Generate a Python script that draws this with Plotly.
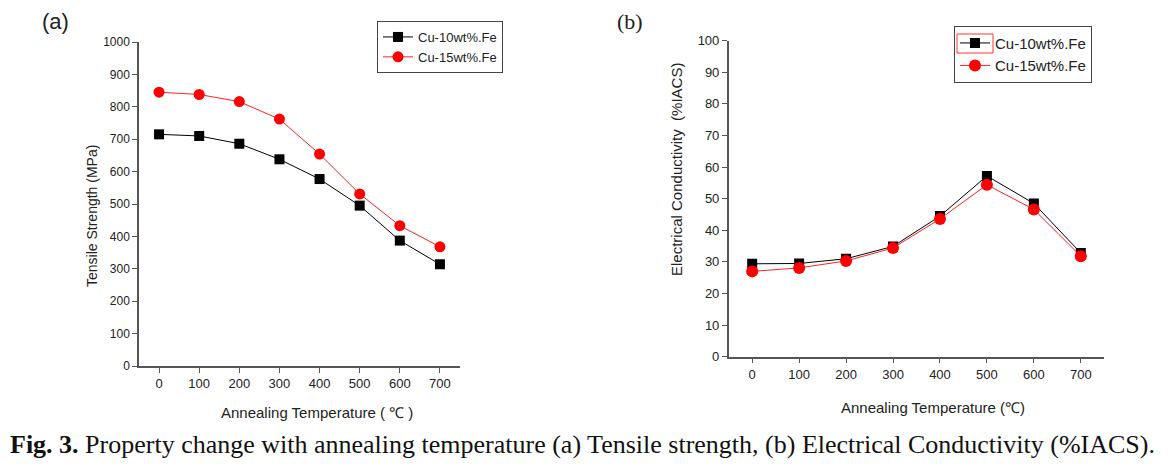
import plotly.graph_objects as go

temps = [0, 100, 200, 300, 400, 500, 600, 700]
series_names = ["Cu-10wt%.Fe", "Cu-15wt%.Fe"]
tensile_10 = [715, 710, 686, 638, 577, 495, 387, 314]
tensile_15 = [845, 838, 816, 762, 654, 531, 433, 368]
cond_10 = [29.4, 29.5, 31.0, 34.9, 44.5, 57.2, 48.5, 32.8]
cond_15 = [27.0, 28.1, 30.3, 34.4, 43.6, 54.4, 46.6, 31.8]
tensile_ticks = list(range(0, 1001, 100))
cond_ticks = list(range(0, 101, 10))

W, H = 1168, 469
def px(x): return x / W
def py(y): return (H - y) / H

SANS = "Liberation Sans, Arial"
SERIF = "Liberation Serif, Times New Roman"

fig = go.Figure()
fig.add_trace(go.Scatter(x=temps, y=tensile_10, name=series_names[0], mode="lines+markers",
                         line=dict(color="black", width=1), marker=dict(symbol="square", size=10, color="black"),
                         xaxis="x", yaxis="y", legend="legend"))
fig.add_trace(go.Scatter(x=temps, y=tensile_15, name=series_names[1], mode="lines+markers",
                         line=dict(color="#ff2020", width=1), marker=dict(symbol="circle", size=11, color="#ff0000"),
                         xaxis="x", yaxis="y", legend="legend"))
fig.add_trace(go.Scatter(x=temps, y=cond_10, name=series_names[0], mode="lines+markers",
                         line=dict(color="black", width=1), marker=dict(symbol="square", size=10, color="black"),
                         xaxis="x2", yaxis="y2", legend="legend2"))
fig.add_trace(go.Scatter(x=temps, y=cond_15, name=series_names[1], mode="lines+markers",
                         line=dict(color="#ff2020", width=1), marker=dict(symbol="circle", size=12, color="#ff0000"),
                         xaxis="x2", yaxis="y2", legend="legend2"))

axis_common = dict(showgrid=False, zeroline=False, showline=True, linecolor="#555555", linewidth=1.5,
                   ticks="outside", ticklen=5, tickcolor="#555555", tickwidth=1.2, automargin=False)

fig.update_layout(
    width=W, height=H, margin=dict(l=0, r=0, t=0, b=0, pad=0, autoexpand=False),
    paper_bgcolor="white", plot_bgcolor="white",
    xaxis=dict(domain=[px(139), px(460)], range=[-50, 750], tickvals=temps, anchor="y",
               tickfont=dict(family=SANS, size=13, color="#222"), **axis_common),
    yaxis=dict(domain=[py(366), py(42)], range=[0, 1000], tickvals=tensile_ticks, anchor="x",
               tickfont=dict(family=SANS, size=12, color="#222"), **axis_common),
    xaxis2=dict(domain=[px(728.7), px(1104.3)], range=[-50, 750], tickvals=temps, anchor="y2",
                tickfont=dict(family=SANS, size=13, color="#222"), **axis_common),
    yaxis2=dict(domain=[py(356.7), py(40.7)], range=[0, 100], tickvals=cond_ticks, anchor="x2",
                tickfont=dict(family=SANS, size=13, color="#222"), **axis_common),
    legend=dict(x=px(377), y=py(21), xanchor="left", yanchor="top", bgcolor="white",
                bordercolor="#444", borderwidth=1, font=dict(family=SANS, size=13, color="#222"),
                tracegroupgap=0, itemwidth=30),
    legend2=dict(x=px(954), y=py(25.7), xanchor="left", yanchor="top", bgcolor="rgba(0,0,0,0)",
                 bordercolor="#444", borderwidth=1, font=dict(family=SANS, size=15, color="#222"),
                 tracegroupgap=0, itemwidth=30),
    showlegend=True,
)

def label(text, x, y, size, family=SANS, angle=0, xanchor="center", color="#222"):
    return dict(text=text, x=px(x), y=py(y), xref="paper", yref="paper", showarrow=False,
                xanchor=xanchor, yanchor="middle", textangle=angle,
                font=dict(family=family, size=size, color=color))

ann = [
    label("(a)", 55, 22, 22),
    label("(b)", 630, 22, 22, family=SERIF),
    label("Tensile Strength (MPa)", 92, 216, 14, angle=-90),
    label("Annealing Temperature ( ℃ )", 317, 412, 15),
    label("Electrical Conductivity  (%IACS)", 676, 170, 15, angle=-90),
    label("Annealing Temperature (℃)", 933, 407, 15),
    label("<b>Fig. 3.</b> Property change with annealing temperature (a) Tensile strength, (b) Electrical Conductivity (%IACS).",
          8, 444, 26, family=SERIF, xanchor="left", color="#111"),
]
fig.update_layout(annotations=ann)

fig.add_shape(type="rect", xref="paper", yref="paper", x0=px(957), x1=px(993), y0=py(53), y1=py(34),
              line=dict(color="#ff3030", width=1), layer="above")

fig.write_html("out.html", config={"displayModeBar": False},
               post_script="document.body.style.margin='0';document.body.style.overflow='hidden';")
